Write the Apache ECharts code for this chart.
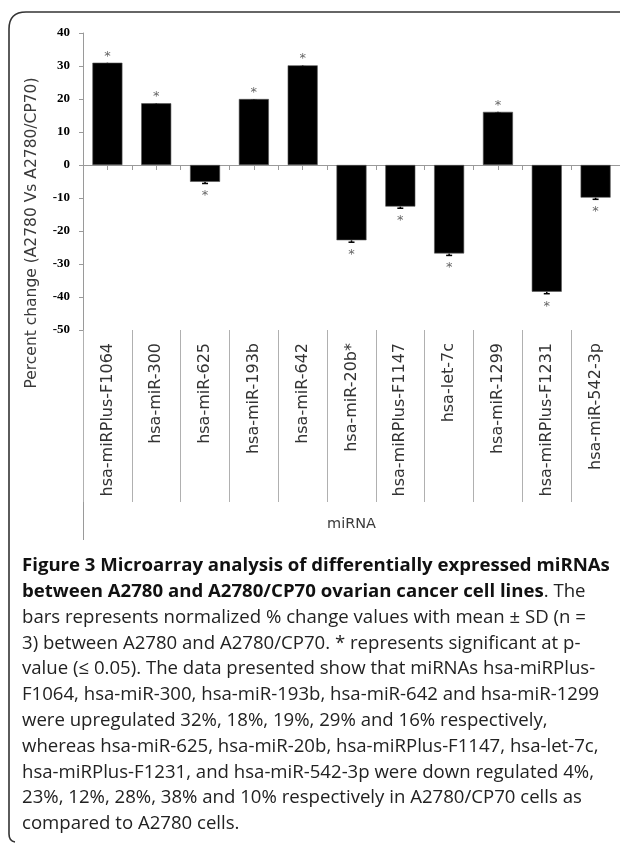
<!DOCTYPE html>
<html><head><meta charset="utf-8">
<script src="https://cdn.jsdelivr.net/npm/echarts@6/dist/echarts.min.js"></script>
<style>html,body{margin:0;padding:0;background:#fff}#c{width:620px;height:849px}</style>
</head><body><div id="c"></div>
<script>
const categories = ['hsa-miRPlus-F1064','hsa-miR-300','hsa-miR-625','hsa-miR-193b','hsa-miR-642','hsa-miR-20b*','hsa-miRPlus-F1147','hsa-let-7c','hsa-miR-1299','hsa-miRPlus-F1231','hsa-miR-542-3p'];
const percentChange = [31.0, 18.7, -5.1, 20.0, 30.2, -22.8, -12.6, -26.8, 16.1, -38.4, -9.9];
const sd = [0.4, 0.4, 0.5, 0.4, 0.4, 0.6, 0.5, 0.6, 0.4, 0.6, 0.5];
const significant = [true, true, true, true, true, true, true, true, true, true, true];
const yMin = -50, yMax = 40, yStep = 10;
const yTitle = 'Percent change (A2780 Vs A2780/CP70)';
const xTitle = 'miRNA';
const captionBold1 = 'Figure 3 Microarray analysis of differentially expressed miRNAs';
const captionBold2 = 'between A2780 and A2780/CP70 ovarian cancer cell lines';
const captionRest2 = '. The';
const captionLines = [
  'bars represents normalized % change values with mean \u00b1 SD (n =',
  '3) between A2780 and A2780/CP70. * represents significant at p-',
  'value (\u2264 0.05). The data presented show that miRNAs hsa-miRPlus-',
  'F1064, hsa-miR-300, hsa-miR-193b, hsa-miR-642 and hsa-miR-1299',
  'were upregulated 32%, 18%, 19%, 29% and 16% respectively,',
  'whereas hsa-miR-625, hsa-miR-20b, hsa-miRPlus-F1147, hsa-let-7c,',
  'hsa-miRPlus-F1231, and hsa-miR-542-3p were down regulated 4%,',
  '23%, 12%, 28%, 38% and 10% respectively in A2780/CP70 cells as',
  'compared to A2780 cells.'
];

const chart = echarts.init(document.getElementById('c'), null, {renderer: 'canvas'});
const AX = '#9a9a9a';
const capFont = 'Open Sans';
const capSize = 18.6;
const lineY0 = 566, lineH = 25.8;
const frameStyle = {stroke: '#333', lineWidth: 1.6, fill: null};

const graphic = [
  {type: 'line', shape: {x1: 26, y1: 12, x2: 620, y2: 12}, style: frameStyle, silent: true},
  {type: 'line', shape: {x1: 9, y1: 29, x2: 9, y2: 834}, style: frameStyle, silent: true},
  {type: 'bezierCurve', shape: {x1: 9, y1: 29, x2: 26, y2: 12, cpx1: 9, cpy1: 12}, style: frameStyle, silent: true},
  {type: 'bezierCurve', shape: {x1: 9, y1: 834, x2: 15, y2: 842, cpx1: 9, cpy1: 841}, style: frameStyle, silent: true},
  {type: 'line', shape: {x1: 83.5, y1: 330, x2: 83.5, y2: 540}, style: {stroke: AX, lineWidth: 1}, silent: true},
  {type: 'text', x: 32, y: 233, rotation: Math.PI / 2,
   style: {text: yTitle, fontFamily: 'DejaVu Sans', fontSize: 15.5, fill: '#3a3a3a', align: 'center', verticalAlign: 'middle'}},
  {type: 'text', x: 22, y: lineY0,
   style: {text: captionBold1, fontFamily: capFont, fontWeight: 'bold', fontSize: capSize, fill: '#111', verticalAlign: 'middle'}},
  {type: 'text', x: 22, y: lineY0 + lineH,
   style: {text: '{b|' + captionBold2 + '}{n|' + captionRest2 + '}', verticalAlign: 'middle',
     rich: {b: {fontFamily: capFont, fontWeight: 'bold', fontSize: capSize, fill: '#111'},
            n: {fontFamily: capFont, fontSize: capSize, fill: '#222'}}}}
];
captionLines.forEach((t, i) => {
  graphic.push({type: 'text', x: 22, y: lineY0 + lineH * (i + 2),
    style: {text: t, fontFamily: capFont, fontSize: capSize, fill: '#222', verticalAlign: 'middle'}});
});

const rows = categories.map((c, i) => [i, percentChange[i], sd[i], significant[i] ? 1 : 0]);

chart.setOption({
  animation: false,
  backgroundColor: '#fff',
  grid: {left: 83, right: 0, top: 33, height: 297, containLabel: false},
  xAxis: [
    {type: 'category', data: categories, position: 'bottom',
     axisLine: {show: true, onZero: true, onZeroAxisIndex: 0, lineStyle: {color: AX, width: 1}},
     axisTick: {show: true, interval: 0, alignWithLabel: false, length: 5, lineStyle: {color: AX}},
     axisLabel: {show: false}, splitLine: {show: false}},
    {type: 'category', data: categories, position: 'bottom',
     axisLine: {show: false, onZero: true, onZeroAxisIndex: 0},
     axisTick: {show: true, interval: 0, alignWithLabel: true, length: 5, lineStyle: {color: AX}},
     axisLabel: {show: false}, splitLine: {show: false}},
    {type: 'category', data: categories, position: 'bottom', name: xTitle,
     nameLocation: 'middle', nameGap: 187,
     nameTextStyle: {fontFamily: 'DejaVu Sans', fontSize: 14.5, color: '#3a3a3a'},
     axisLine: {show: false, onZero: false},
     axisTick: {show: true, interval: 0, alignWithLabel: false, length: 172, lineStyle: {color: '#b0b0b0'}},
     axisLabel: {show: true, interval: 0, rotate: 90, margin: 13, fontFamily: 'DejaVu Sans', fontSize: 16, color: '#333'},
     splitLine: {show: false}}
  ],
  yAxis: {
    type: 'value', min: yMin, max: yMax, interval: yStep,
    axisLine: {show: true, onZero: false, lineStyle: {color: AX, width: 1}},
    axisTick: {show: true, length: 4, lineStyle: {color: AX}},
    axisLabel: {margin: 13, fontFamily: 'Liberation Serif', fontWeight: 'bold', fontSize: 13, color: '#000'},
    splitLine: {show: false}
  },
  series: [
    {type: 'custom', xAxisIndex: 0, data: rows, z: 1,
     renderItem: (params, api) => {
       // minus-direction error bars (hidden inside positive bars)
       const i = api.value(0), v = api.value(1), e = api.value(2);
       const p0 = api.coord([i, v]), p1 = api.coord([i, v - e]);
       return {type: 'group', children: [
         {type: 'line', shape: {x1: p0[0], y1: p0[1], x2: p1[0], y2: p1[1]}, style: {stroke: '#000', lineWidth: 1.5}},
         {type: 'line', shape: {x1: p1[0] - 3, y1: p1[1], x2: p1[0] + 3, y2: p1[1]}, style: {stroke: '#000', lineWidth: 1.5}}
       ]};
     }},
    {type: 'bar', xAxisIndex: 0, data: percentChange, barWidth: 30, z: 2,
     itemStyle: {color: '#000', borderColor: '#555', borderWidth: 0.6}},
    {type: 'custom', xAxisIndex: 0, data: rows, z: 4,
     renderItem: (params, api) => {
       if (!api.value(3)) return null;
       const i = api.value(0), v = api.value(1), e = api.value(2);
       const end = v >= 0 ? v : v - e;
       const p = api.coord([i, end]);
       const dy = v >= 0 ? -9.5 : 9.5;
       return {type: 'text', x: p[0], y: p[1] + dy + 3,
         style: {text: '*', fontFamily: 'DejaVu Sans', fontSize: 13, fill: '#666', align: 'center', verticalAlign: 'middle'}};
     }}
  ],
  graphic: graphic
});
</script></body></html>
